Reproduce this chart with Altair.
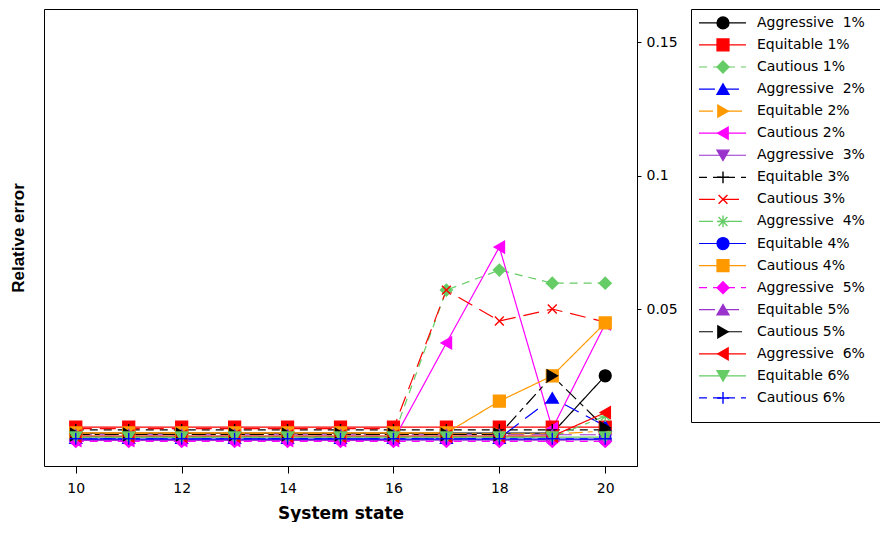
import altair as alt
import pandas as pd

# ---- data -------------------------------------------------------------
x_states = [10, 11, 12, 13, 14, 15, 16, 17, 18, 19, 20]

series_names = [
    "Aggressive  1%", "Equitable 1%", "Cautious 1%",
    "Aggressive  2%", "Equitable 2%", "Cautious 2%",
    "Aggressive  3%", "Equitable 3%", "Cautious 3%",
    "Aggressive  4%", "Equitable 4%", "Cautious 4%",
    "Aggressive  5%", "Equitable 5%", "Cautious 5%",
    "Aggressive  6%", "Equitable 6%", "Cautious 6%",
]

aggressive_1 = [0.0035, 0.0035, 0.0035, 0.0035, 0.0035, 0.0035, 0.0035, 0.0035, 0.0035, 0.0035, 0.0250]
equitable_1 = [0.0058, 0.0058, 0.0058, 0.0058, 0.0058, 0.0058, 0.0058, 0.0058, 0.0058, 0.0058, 0.0058]
cautious_1 = [0.0022, 0.0022, 0.0022, 0.0022, 0.0022, 0.0022, 0.0022, 0.0571, 0.0646, 0.0597, 0.0597]
aggressive_2 = [0.0016, 0.0016, 0.0016, 0.0016, 0.0016, 0.0016, 0.0016, 0.0016, 0.0016, 0.0167, 0.0062]
equitable_2 = [0.0032, 0.0032, 0.0032, 0.0032, 0.0032, 0.0032, 0.0032, 0.0032, 0.0032, 0.0032, 0.0043]
cautious_2 = [0.0008, 0.0008, 0.0008, 0.0008, 0.0008, 0.0008, 0.0008, 0.0373, 0.0732, 0.0052, 0.0444]
aggressive_3 = [0.0009, 0.0009, 0.0009, 0.0009, 0.0009, 0.0009, 0.0009, 0.0009, 0.0009, 0.0009, 0.0010]
equitable_3 = [0.0047, 0.0047, 0.0047, 0.0047, 0.0047, 0.0047, 0.0047, 0.0047, 0.0047, 0.0047, 0.0047]
cautious_3 = [0.0052, 0.0052, 0.0052, 0.0052, 0.0052, 0.0052, 0.0052, 0.0571, 0.0455, 0.0500, 0.0451]
aggressive_4 = [0.0019, 0.0019, 0.0019, 0.0019, 0.0019, 0.0019, 0.0019, 0.0019, 0.0019, 0.0019, 0.0099]
equitable_4 = [0.0013, 0.0013, 0.0013, 0.0013, 0.0013, 0.0013, 0.0013, 0.0013, 0.0013, 0.0013, 0.0013]
cautious_4 = [0.0036, 0.0036, 0.0036, 0.0036, 0.0036, 0.0036, 0.0036, 0.0036, 0.0155, 0.0250, 0.0448]
aggressive_5 = [0.0004, 0.0004, 0.0004, 0.0004, 0.0004, 0.0004, 0.0004, 0.0004, 0.0004, 0.0004, 0.0004]
equitable_5 = [0.0029, 0.0029, 0.0029, 0.0029, 0.0029, 0.0029, 0.0029, 0.0029, 0.0029, 0.0029, 0.0029]
cautious_5 = [0.0030, 0.0030, 0.0030, 0.0030, 0.0030, 0.0030, 0.0030, 0.0030, 0.0030, 0.0250, 0.0055]
aggressive_6 = [0.0024, 0.0024, 0.0024, 0.0024, 0.0024, 0.0024, 0.0024, 0.0024, 0.0024, 0.0024, 0.0112]
equitable_6 = [0.0020, 0.0020, 0.0020, 0.0020, 0.0020, 0.0020, 0.0020, 0.0020, 0.0020, 0.0020, 0.0020]
cautious_6 = [0.0014, 0.0014, 0.0014, 0.0014, 0.0014, 0.0014, 0.0014, 0.0014, 0.0014, 0.0014, 0.0014]

all_values = [
    aggressive_1, equitable_1, cautious_1,
    aggressive_2, equitable_2, cautious_2,
    aggressive_3, equitable_3, cautious_3,
    aggressive_4, equitable_4, cautious_4,
    aggressive_5, equitable_5, cautious_5,
    aggressive_6, equitable_6, cautious_6,
]

y_tick_values = [0.05, 0.1, 0.15]
x_tick_values = [10, 12, 14, 16, 18, 20]

# ---- styles -----------------------------------------------------------
BLACK, RED, GREEN, BLUE = "#000000", "#ff0000", "#66cc66", "#0000ff"
ORANGE, MAGENTA, PURPLE = "#ff9900", "#ff00ff", "#9933cc"
series_colors = [BLACK, RED, GREEN, BLUE, ORANGE, MAGENTA, PURPLE, BLACK, RED,
                 GREEN, BLUE, ORANGE, MAGENTA, PURPLE, BLACK, RED, GREEN, BLUE]

SOLID = [1, 0]
DASH = [8, 6]
LONG = [16, 8]
DASHDOT = [14, 5, 5, 5]
series_dashes = [SOLID, SOLID, DASH, LONG, DASHDOT, SOLID, SOLID, DASH, LONG,
                 DASHDOT, SOLID, SOLID, DASH, LONG, DASHDOT, SOLID, SOLID, DASH]

PLUS = "M-1,0H1M0,-1V1"
XMARK = "M-0.75,-0.75L0.75,0.75M-0.75,0.75L0.75,-0.75"
STAR = "M-1,0H1M0,-1V1M-0.75,-0.75L0.75,0.75M-0.75,0.75L0.75,-0.75"
series_shapes = ["circle", "square", "diamond", "triangle-up", "triangle-right",
                 "triangle-left", "triangle-down", PLUS, XMARK, STAR, "circle",
                 "square", "diamond", "triangle-up", "triangle-right",
                 "triangle-left", "triangle-down", PLUS]

# ---- tables -----------------------------------------------------------
rows = []
for i, (name, vals) in enumerate(zip(series_names, all_values)):
    for xv, yv in zip(x_states, vals):
        rows.append({"series": name, "order": i, "state": xv, "err": yv})
df = pd.DataFrame(rows)

legend_df = pd.DataFrame({
    "series": series_names,
    "display": [s.replace("  ", "\u00a0 ") for s in series_names],
    "x0": 8, "x1": 55, "xm": 32, "xt": 66,
})

color_scale = alt.Scale(domain=series_names, range=series_colors)
dash_scale = alt.Scale(domain=series_names, range=series_dashes)
shape_scale = alt.Scale(domain=series_names, range=series_shapes)

x_scale = alt.Scale(domain=[9.4, 20.6], nice=False, zero=False)
y_scale = alt.Scale(domain=[-0.0088, 0.1624], nice=False, zero=False)

FONT = "DejaVu Sans"

x_enc = alt.X("state:Q", scale=x_scale,
              axis=alt.Axis(title="System state", values=x_tick_values, format="d",
                            tickSize=7, labelPadding=8, titlePadding=10,
                            labelFontSize=14, titleFontSize=17, titleFont=FONT,
                            labelFont=FONT, titleFontWeight="bold",
                            domain=False, tickColor="black", labelColor="black",
                            titleColor="black", grid=False))

lines = alt.Chart(df).mark_line(strokeWidth=1.2).encode(
    x=x_enc,
    y=alt.Y("err:Q", scale=y_scale,
            axis=alt.Axis(orient="left", title="Relative error", labels=False,
                          ticks=False, domain=False, grid=False,
                          titleFont="Liberation Sans", titleFontSize=17,
                          titleFontWeight="bold", titleColor="black",
                          titlePadding=17)),
    color=alt.Color("series:N", scale=color_scale, legend=None),
    strokeDash=alt.StrokeDash("series:N", scale=dash_scale, legend=None),
    detail="series:N",
    order="state:Q",
)

points = alt.Chart(df).mark_point(filled=True, size=140, strokeWidth=1.4, opacity=1).encode(
    x=alt.X("state:Q", scale=x_scale),
    y=alt.Y("err:Q", scale=y_scale,
            axis=alt.Axis(orient="right", title=None, values=y_tick_values,
                          format="~g", tickSize=4, labelPadding=5,
                          labelFontSize=14, labelFont=FONT, domain=True,
                          domainColor="black", tickColor="black",
                          labelColor="black", grid=False)),
    shape=alt.Shape("series:N", scale=shape_scale, legend=None),
    fill=alt.Fill("series:N", scale=color_scale, legend=None),
    stroke=alt.Stroke("series:N", scale=color_scale, legend=None),
)

main = alt.layer(lines, points).resolve_axis(y="independent").properties(
    width=593, height=457, view=alt.ViewBackground(stroke="black", strokeWidth=1))

# ---- legend panel (frame open on the right, as in the cropped original) ----
LEG_W = 189
lx = alt.Scale(domain=[0, LEG_W], nice=False, zero=False)
ly = alt.Scale(domain=series_names, padding=0.72, align=0.34)

frame_axis = dict(labels=False, ticks=False, domain=True, grid=False, title=None,
                  domainColor="black", domainWidth=1)
y_leg = alt.Y("series:N", scale=ly, sort=series_names,
              axis=alt.Axis(orient="left", **frame_axis))

leg_rule = alt.Chart(legend_df).mark_rule(strokeWidth=1.2).encode(
    x=alt.X("x0:Q", scale=lx, axis=alt.Axis(orient="bottom", **frame_axis)),
    x2="x1:Q",
    y=y_leg,
    color=alt.Color("series:N", scale=color_scale, legend=None),
    strokeDash=alt.StrokeDash("series:N", scale=dash_scale, legend=None),
)
leg_pts = alt.Chart(legend_df).mark_point(filled=True, size=140, strokeWidth=1.4, opacity=1).encode(
    x=alt.X("xm:Q", scale=lx, axis=alt.Axis(orient="top", **frame_axis)),
    y=y_leg,
    shape=alt.Shape("series:N", scale=shape_scale, legend=None),
    fill=alt.Fill("series:N", scale=color_scale, legend=None),
    stroke=alt.Stroke("series:N", scale=color_scale, legend=None),
)
leg_text = alt.Chart(legend_df).mark_text(align="left", baseline="middle",
                                           fontSize=14, font=FONT, color="black").encode(
    x=alt.X("xt:Q", scale=lx, axis=None),
    y=y_leg,
    text="display:N",
)
legend = alt.layer(leg_rule, leg_pts, leg_text).resolve_axis(
    x="independent").properties(width=LEG_W, height=413,
                                view=alt.ViewBackground(stroke=None))

chart = alt.hconcat(main, legend, spacing=54, bounds="flush").properties(
    padding={"left": 0, "top": 0, "right": 0, "bottom": 0})

chart.save("out.html", embed_options={"renderer": "svg", "actions": False})
